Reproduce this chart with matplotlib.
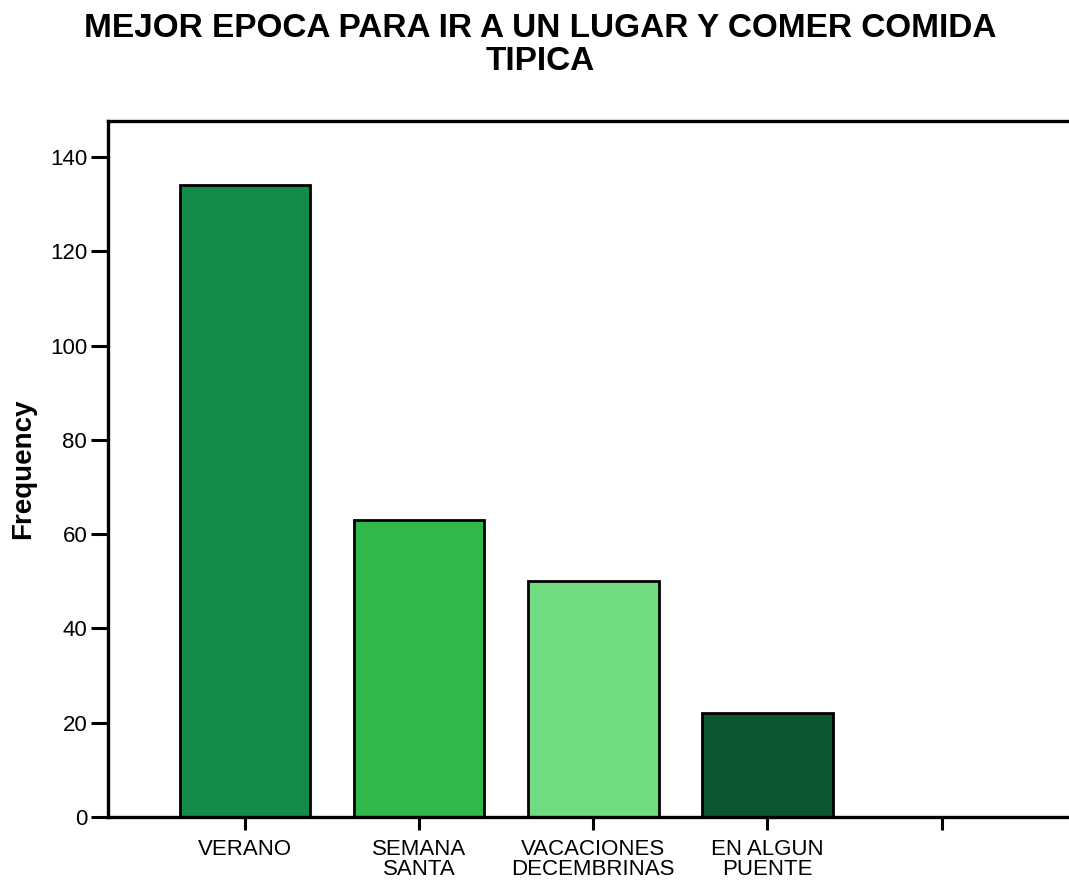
import matplotlib.pyplot as plt
import numpy as np

plt.rcParams['font.family'] = ['Liberation Sans', 'DejaVu Sans']

categories = ['VERANO', 'SEMANA\nSANTA', 'VACACIONES\nDECEMBRINAS', 'EN ALGUN\nPUENTE', '']
frequency = [134, 63, 50, 22, 0]
colors = ['#118c4a', '#30b84b', '#70dc82', '#0b5830', '#ffffff']

fig = plt.figure(figsize=(10.69, 8.81), dpi=100)
ax = fig.add_axes([0.101, 0.0726, 0.908, 0.790])

x_pos = np.arange(len(categories))
ax.bar(x_pos, frequency, width=0.75, color=colors, edgecolor='black', linewidth=2)

ax.set_xlim(-0.787, 4.787)
ax.set_ylim(0, 147.6)
ax.set_xticks(x_pos)
ax.set_xticklabels(categories, fontsize=16, linespacing=0.9)
ax.set_yticks(np.arange(0, 141, 20))
ax.tick_params(axis='y', labelsize=16, length=12, width=2.2, pad=3)
ax.tick_params(axis='x', length=9, width=2.2, pad=7)

for side in ['left', 'bottom', 'top']:
    ax.spines[side].set_linewidth(2.4)
ax.spines['right'].set_visible(False)

ax.set_ylabel('Frequency', fontsize=20, fontweight='bold', labelpad=10)
fig.suptitle('MEJOR EPOCA PARA IR A UN LUGAR Y COMER COMIDA\nTIPICA',
             fontsize=24, fontweight='bold', x=0.505, y=0.985, linespacing=1.08)

fig.savefig('out.png', dpi=100)
